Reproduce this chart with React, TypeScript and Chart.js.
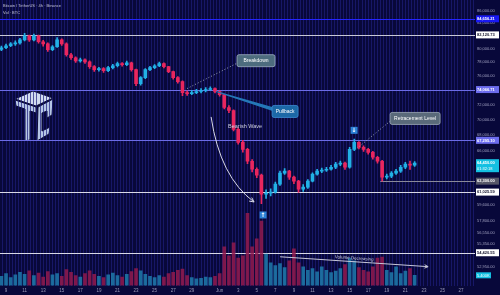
import React, { useEffect, useRef } from "react";
import { Chart, registerables } from "chart.js";

Chart.register(...registerables);

// ---------------- data ----------------
// day index: May 1 = 1 ... May 31 = 31, Jun 1 = 32
const firstCandleDay = 8.5;
const candleStepDays = 0.5; // 12h candles

const opens = [
  79900, 80150, 80450, 80750, 80900, 81350, 81980, 81350, 81980, 81060,
  80750, 79850, 80300, 81350, 80750, 79100, 78650, 78200, 78350, 78050,
  77340, 76900, 77050, 76760, 77200, 77480, 77780, 77630, 77920, 76900,
  74900, 75750, 76900, 77200, 77480, 77780, 77340, 76620, 75750, 75190,
  73650, 73510, 73650, 73790, 73930, 74070, 74200, 73790, 73370, 71600,
  71200, 68700, 67040, 66160, 64690, 63720, 63010, 60800, 60900, 61030,
  61950, 63250, 63490, 62770, 62300, 61370, 61600, 62300, 63130, 63490,
  63600, 63720, 63960, 64330, 64450, 63960, 66160, 67040, 66410, 66160,
  65790, 65180, 64690, 62770, 62890, 63250, 63490, 63960, 64330, 64210,
];
const closes = [
  80150, 80450, 80750, 80900, 81350, 81980, 81350, 81980, 81060, 80750,
  79850, 80300, 81350, 80750, 79100, 78650, 78200, 78350, 78050, 77340,
  76900, 77050, 76760, 77200, 77480, 77780, 77630, 77920, 76900, 74900,
  75750, 76900, 77200, 77480, 77780, 77340, 76620, 75750, 75190, 73650,
  73510, 73650, 73790, 73930, 74070, 74200, 73790, 73370, 71600, 71200,
  68700, 67040, 66160, 64690, 63720, 63010, 60800, 60900, 61030, 61950,
  63250, 63490, 62770, 62300, 61370, 61600, 62300, 63130, 63490, 63600,
  63720, 63960, 64330, 64450, 63960, 66160, 67040, 66410, 66160, 65790,
  65180, 64690, 62770, 62890, 63250, 63490, 63960, 64330, 64210, 64450,
];
const highs = [
  80400, 80700, 80950, 81200, 81600, 82350, 82100, 82250, 82100, 81300,
  80900, 80500, 81700, 81500, 80900, 79300, 78800, 78600, 78500, 78200,
  77500, 77250, 77200, 77400, 77700, 78000, 77950, 78150, 78000, 77000,
  75900, 77050, 77400, 77650, 78000, 77900, 77400, 76700, 75900, 75300,
  73900, 73950, 74100, 74200, 74350, 74450, 74300, 73900, 73450, 71850,
  71300, 68900, 67300, 66300, 64900, 63900, 63150, 61300, 61400, 62200,
  63500, 63800, 63600, 62900, 62400, 61900, 62500, 63300, 63700, 63850,
  63950, 64200, 64550, 64700, 64600, 66400, 67450, 67150, 66600, 66300,
  65900, 65300, 64800, 63150, 63450, 63700, 64200, 64550, 64700, 64650,
];
const lows = [
  79700, 80000, 80300, 80500, 80700, 81200, 81100, 81200, 80850, 80400,
  79600, 79700, 80200, 80500, 78900, 78400, 77950, 78000, 77800, 77100,
  76650, 76700, 76500, 76600, 77000, 77300, 77400, 77500, 76700, 74600,
  74700, 75600, 76750, 77050, 77350, 77150, 76450, 75550, 74950, 73200,
  73250, 73350, 73500, 73600, 73750, 73950, 73600, 73150, 71400, 70900,
  68500, 66800, 65800, 64400, 63400, 62700, 59700, 60300, 60600, 60900,
  61800, 63100, 62500, 62000, 61000, 61100, 61450, 62200, 63000, 63300,
  63450, 63600, 63800, 64150, 63700, 63850, 66000, 66200, 65900, 65550,
  64950, 64450, 62300, 62550, 62700, 63100, 63350, 63800, 63700, 64050,
];
const volumes = [
  4900, 6300, 4200, 5600, 7000, 5900, 7700, 5200, 6600, 4500,
  7300, 5600, 6300, 4900, 8400, 7000, 5200, 4500, 6300, 7700,
  5900, 4900, 4200, 5600, 6600, 5200, 4500, 5900, 7300, 9000,
  7700, 5900, 4900, 4200, 5200, 4500, 6300, 7000, 8000, 8700,
  5200, 4200, 3500, 3800, 4500, 4200, 4900, 6300, 20400, 15600,
  22500, 14500, 15600, 38000, 20400, 24500, 33900, 16600, 12000, 10500,
  11500, 9500, 13000, 19300, 12000, 9800, 8000, 9000, 7200, 9800,
  8000, 6800, 7600, 9000, 11000, 14500, 13000, 9500, 8000, 7200,
  9800, 14500, 15000, 8000, 6800, 9800, 6300, 7600, 9000, 5400,
];

const xTickDays = [9, 11, 13, 15, 17, 19, 21, 23, 25, 27, 29, 32, 34, 36, 38, 40, 42, 44, 46, 48, 50, 52, 54, 56, 58];
const xTickLabels = ["9", "11", "13", "15", "17", "19", "21", "23", "25", "27", "29", "Jun", "3", "5", "7", "9", "11", "13", "15", "17", "19", "21", "23", "25", "27"];
const priceTicks = [86000, 84000, 80000, 78000, 76000, 72000, 70000, 68000, 66000, 59600, 57800, 56550, 55350, 52950];
const levelPrices = [84656.21, 82120.73, 74066.71, 67295.1, 61025.59, 54420.55];
const supportPrice = 62300;
const supportStartDay = 49.3;
const countdownText = "01:32:18";
const titleText = "Bitcoin / TetherUS · 4h · Binance";
const volTitleText = "Vol · BTC";

// ---------------- styles / layout ----------------
const FONT = '"Liberation Sans", Arial, sans-serif';
const BG = "#08083a";
const UP = "#22b0e6";
const DOWN = "#e8265e";
const VOL_UP = "rgba(30,122,172,0.85)";
const VOL_DOWN = "rgba(146,26,78,0.85)";
const levelStyles = [
  { line: "#2424ff", box: "#1818f2", text: "#ffffff" },
  { line: "#c8c8d6", box: "#ffffff", text: "#10102a" },
  { line: "#6c6ce6", box: "#6c6cee", text: "#ffffff" },
  { line: "#6c6ce6", box: "#6c6cee", text: "#ffffff" },
  { line: "#d8d8e6", box: "#ffffff", text: "#10102a" },
  { line: "#d8d8e6", box: "#ffffff", text: "#10102a" },
];

const notes = {
  breakdown: { text: "Breakdown", day: 35.92, price: 78216, w: 38, h: 12, bg: "#4d6c7e", border: "#9fb0c0" },
  breakdownLine: { d1: 28.49, p1: 74206, d2: 33.98, p2: 77922 },
  pullback: { text: "Pullback", day: 39.05, price: 71067, w: 26, h: 12, bg: "#1c68a6", border: "#3d8ed4" },
  pullbackLine: { d1: 31.61, p1: 73787, d2: 37.86, p2: 71334 },
  wave: { text: "Bearish Wave", day: 34.74, price: 69080 },
  waveArrow: { d1: 31.08, p1: 70340, dc: 32.05, pc: 62773, d2: 35.71, p2: 59896 },
  retrace: { text: "Retracement Level", day: 53.05, price: 70137, w: 50, h: 12, bg: "#5a6a7a", border: "#a0acb8" },
  retraceLine: { d1: 46.8, p1: 66289, d2: 50.46, p2: 69873 },
  downMark: { day: 46.48, price: 68577 },
  upMark: { day: 36.68, price: 58446 },
  volArrow: { d1: 38.51, p1: 54008, d2: 54.45, p2: 53009 },
  volText: { text: "Volume Decreasing", day: 46.48, price: 53704 },
};

const fmt = (v: number) =>
  v.toLocaleString("en-US", { minimumFractionDigits: 2, maximumFractionDigits: 2 });

function roundBox(ctx: CanvasRenderingContext2D, cx: number, cy: number, w: number, h: number, bg: string, border?: string) {
  const x = cx - w / 2;
  const y = cy - h / 2;
  ctx.beginPath();
  (ctx as any).roundRect(x, y, w, h, 2);
  ctx.fillStyle = bg;
  ctx.fill();
  if (border) {
    ctx.strokeStyle = border;
    ctx.lineWidth = 0.8;
    ctx.stroke();
  }
}

function arrowHead(ctx: CanvasRenderingContext2D, x: number, y: number, ang: number, len: number) {
  ctx.beginPath();
  ctx.moveTo(x - len * Math.cos(ang - 0.45), y - len * Math.sin(ang - 0.45));
  ctx.lineTo(x, y);
  ctx.lineTo(x - len * Math.cos(ang + 0.45), y - len * Math.sin(ang + 0.45));
  ctx.stroke();
}

const overlay = {
  id: "overlay",
  beforeDraw(chart: any) {
    const { ctx } = chart;
    ctx.save();
    // logo watermark (under the grid stripes)
    const o = { x: 15, y: 90 };
    const polys = [
      [[0, 9], [18, 1], [38, 8], [21, 16]],
      [[0, 10], [21, 17], [21, 23], [15, 21], [15, 50], [10, 51], [10, 19], [1, 16]],
      [[23, 17], [38, 9], [37, 25], [32, 28], [32, 21], [27, 23], [27, 41], [35, 37], [34, 44], [22, 51]],
    ];
    polys.forEach((poly, k) => {
      ctx.beginPath();
      poly.forEach(([px, py], j) => (j ? ctx.lineTo(o.x + px, o.y + py) : ctx.moveTo(o.x + px, o.y + py)));
      ctx.closePath();
      ctx.fillStyle = k === 0 ? "#d2dcf0" : "#b6c6e6";
      ctx.fill();
      ctx.strokeStyle = "#0b0b38";
      ctx.lineWidth = 1;
      ctx.stroke();
    });
    ctx.restore();
  },
  beforeDatasetsDraw(chart: any) {
    const { ctx, chartArea } = chart;
    const x = chart.scales.x;
    const y = chart.scales.y;
    ctx.save();
    levelPrices.forEach((p, i) => {
      const py = Math.round(y.getPixelForValue(p)) + 0.5;
      ctx.strokeStyle = levelStyles[i].line;
      ctx.lineWidth = 1;
      ctx.beginPath();
      ctx.moveTo(chartArea.left, py);
      ctx.lineTo(chartArea.right, py);
      ctx.stroke();
    });
    const sy = Math.round(y.getPixelForValue(supportPrice)) + 0.5;
    ctx.strokeStyle = "#8a8a9a";
    ctx.beginPath();
    ctx.moveTo(x.getPixelForValue(supportStartDay), sy);
    ctx.lineTo(chartArea.right, sy);
    ctx.stroke();
    ctx.restore();
  },
  afterDatasetsDraw(chart: any) {
    const { ctx } = chart;
    const x = chart.scales.x;
    const y = chart.scales.y;
    const P = (d: number, p: number) => [x.getPixelForValue(d), y.getPixelForValue(p)];
    ctx.save();
    ctx.textAlign = "center";
    ctx.textBaseline = "middle";

    // dotted callout lines
    ctx.setLineDash([1, 2]);
    ctx.strokeStyle = "#9aa2b4";
    ctx.lineWidth = 1;
    for (const l of [notes.breakdownLine, notes.retraceLine]) {
      const [a, b] = P(l.d1, l.p1);
      const [c, d] = P(l.d2, l.p2);
      ctx.beginPath();
      ctx.moveTo(a, b);
      ctx.lineTo(c, d);
      ctx.stroke();
    }
    ctx.setLineDash([]);

    // pullback callout wedge
    {
      const [a, b] = P(notes.pullbackLine.d1, notes.pullbackLine.p1);
      const [c, d] = P(notes.pullbackLine.d2, notes.pullbackLine.p2);
      ctx.beginPath();
      ctx.moveTo(a, b - 0.5);
      ctx.lineTo(c, d - 2);
      ctx.lineTo(c, d + 2);
      ctx.lineTo(a, b + 0.5);
      ctx.closePath();
      ctx.fillStyle = "#2478b8";
      ctx.fill();
    }

    // label boxes
    for (const n of [notes.breakdown, notes.pullback, notes.retrace]) {
      const [cx, cy] = P(n.day, n.price);
      roundBox(ctx, cx, cy, n.w, n.h, n.bg, n.border);
      ctx.fillStyle = "#ffffff";
      ctx.font = `5px ${FONT}`;
      ctx.fillText(n.text, cx, cy + 0.3);
    }

    // Bearish wave
    {
      const [cx, cy] = P(notes.wave.day, notes.wave.price);
      ctx.fillStyle = "#cfd0e0";
      ctx.font = `5.5px ${FONT}`;
      ctx.fillText(notes.wave.text, cx, cy);
      const w = notes.waveArrow;
      const [a, b] = P(w.d1, w.p1);
      const [qc, qd] = P(w.dc, w.pc);
      const [c, d] = P(w.d2, w.p2);
      ctx.strokeStyle = "#d8d8e8";
      ctx.lineWidth = 1;
      ctx.beginPath();
      ctx.moveTo(a, b);
      ctx.quadraticCurveTo(qc, qd, c, d);
      ctx.stroke();
      arrowHead(ctx, c, d, Math.atan2(d - qd, c - qc), 5);
    }

    // arrow marks
    for (const [m, glyph] of [[notes.downMark, "↓"], [notes.upMark, "↑"]] as any) {
      const [cx, cy] = P(m.day, m.price);
      ctx.fillStyle = "#2b80d6";
      ctx.fillRect(cx - 3.5, cy - 3.5, 7, 7);
      ctx.fillStyle = "#ffffff";
      ctx.font = `bold 6px "DejaVu Sans", sans-serif`;
      ctx.fillText(glyph, cx, cy + 0.3);
    }

    // volume decreasing arrow
    {
      const v = notes.volArrow;
      const [a, b] = P(v.d1, v.p1);
      const [c, d] = P(v.d2, v.p2);
      ctx.strokeStyle = "#c8c8da";
      ctx.lineWidth = 1;
      ctx.beginPath();
      ctx.moveTo(a, b);
      ctx.lineTo(c, d);
      ctx.stroke();
      const ang = Math.atan2(d - b, c - a);
      arrowHead(ctx, c, d, ang, 4);
      const [tx, ty] = P(notes.volText.day, notes.volText.price);
      ctx.save();
      ctx.translate(tx, ty);
      ctx.rotate(ang);
      ctx.fillStyle = "#d0d0e0";
      ctx.font = `4.5px ${FONT}`;
      ctx.fillText(notes.volText.text, 0, -1.5);
      ctx.restore();
    }

    // title
    ctx.textAlign = "left";
    ctx.fillStyle = "#c4c4d8";
    ctx.font = `4px ${FONT}`;
    ctx.fillText(titleText, 3, 6);
    ctx.fillText(volTitleText, 3, 13);
    ctx.restore();
  },
  afterDraw(chart: any) {
    const { ctx, chartArea } = chart;
    const y = chart.scales.y;
    const yv = chart.scales.yv;
    const lx = chartArea.right + 2;
    const bx = chartArea.right + 1;
    const bw = 23;
    ctx.save();
    ctx.textAlign = "left";
    ctx.textBaseline = "middle";
    ctx.font = `4px ${FONT}`;
    ctx.fillStyle = "#a0a0c0";
    priceTicks.forEach((p) => ctx.fillText(fmt(p), lx, y.getPixelForValue(p)));

    const box = (py: number, bg: string, fg: string, text: string) => {
      ctx.fillStyle = bg;
      ctx.fillRect(bx, py - 3.5, bw, 7);
      ctx.fillStyle = fg;
      ctx.font = `bold 4px ${FONT}`;
      ctx.fillText(text, lx, py + 0.2);
    };
    levelPrices.forEach((p, i) => box(y.getPixelForValue(p), levelStyles[i].box, levelStyles[i].text, fmt(p)));
    box(y.getPixelForValue(supportPrice), "#565668", "#ffffff", fmt(supportPrice));

    // last price (two lines)
    const last = closes[closes.length - 1];
    const py = y.getPixelForValue(last);
    ctx.fillStyle = "#14c0e2";
    ctx.fillRect(bx, py - 4, bw, 13);
    ctx.fillStyle = "#ffffff";
    ctx.font = `bold 4px ${FONT}`;
    ctx.fillText(fmt(last), lx, py);
    ctx.font = `4px ${FONT}`;
    ctx.fillText(countdownText, lx, py + 5.5);

    // last volume
    const lv = volumes[volumes.length - 1];
    const vy = yv.getPixelForValue(lv);
    ctx.fillStyle = "#14c0e2";
    ctx.fillRect(bx, vy - 3, 15, 6);
    ctx.fillStyle = "#ffffff";
    ctx.fillText((lv / 1000).toFixed(3) + "K", lx, vy + 0.2);
    ctx.restore();
  },
};

export default function App() {
  const ref = useRef<HTMLCanvasElement>(null);
  useEffect(() => {
    const canvas = ref.current;
    if (!canvas) return;
    const days = opens.map((_, i) => firstCandleDay + candleStepDays * i);
    const isUp = (i: number) => closes[i] >= opens[i];
    const chart = new Chart(canvas, {
      type: "bar",
      data: {
        datasets: [
          {
            label: "Volume",
            data: volumes.map((v, i) => ({ x: days[i], y: v })) as any,
            yAxisID: "yv",
            xAxisID: "x",
            backgroundColor: (c: any) => (isUp(c.dataIndex) ? VOL_UP : VOL_DOWN),
            barThickness: 3,
            grouped: false,
            order: 3,
          } as any,
          {
            label: "Wicks",
            data: lows.map((l, i) => ({ x: days[i], y: [l, highs[i]] })) as any,
            yAxisID: "y",
            xAxisID: "x",
            backgroundColor: (c: any) => (isUp(c.dataIndex) ? UP : DOWN),
            barThickness: 1,
            grouped: false,
            order: 2,
          } as any,
          {
            label: "Candles",
            data: opens.map((o, i) => ({ x: days[i], y: [o, closes[i]] })) as any,
            yAxisID: "y",
            xAxisID: "x",
            backgroundColor: (c: any) => (isUp(c.dataIndex) ? UP : DOWN),
            barThickness: 3,
            minBarLength: 1,
            grouped: false,
            order: 1,
          } as any,
        ],
      },
      options: {
        animation: false,
        responsive: true,
        maintainAspectRatio: false,
        events: [],
        layout: { padding: { left: 0, right: 25, top: 0, bottom: 0 } },
        plugins: { legend: { display: false }, tooltip: { enabled: false } },
        scales: {
          x: {
            type: "linear",
            min: 8.35,
            max: 59.5,
            offset: false,
            afterBuildTicks: (scale: any) => {
              const t: any[] = [];
              for (let k = Math.ceil(scale.min * 3); k / 3 <= scale.max; k++) t.push({ value: k / 3 });
              scale.ticks = t;
            },
            ticks: {
              autoSkip: false,
              maxRotation: 0,
              minRotation: 0,
              padding: 2,
              color: "#9a9ab8",
              font: { size: 4.5, family: FONT },
              callback: (v: any) => {
                const k = xTickDays.findIndex((d) => Math.abs(d - v) < 0.01);
                return k >= 0 ? xTickLabels[k] : "";
              },
            },
            grid: { color: "rgba(30,30,122,0.7)", lineWidth: 1, drawTicks: false, offset: false },
            border: { display: false },
          } as any,
          y: {
            type: "logarithmic",
            min: 51146,
            max: 87718,
            display: false,
          },
          yv: {
            type: "linear",
            min: 0,
            max: 150000,
            display: false,
          },
        },
      },
      plugins: [overlay],
    } as any);
    return () => chart.destroy();
  }, []);
  return (
    <div style={{ position: "fixed", left: 0, top: 0, width: 500, height: 295, background: BG }}>
      <canvas ref={ref} />
    </div>
  );
}
